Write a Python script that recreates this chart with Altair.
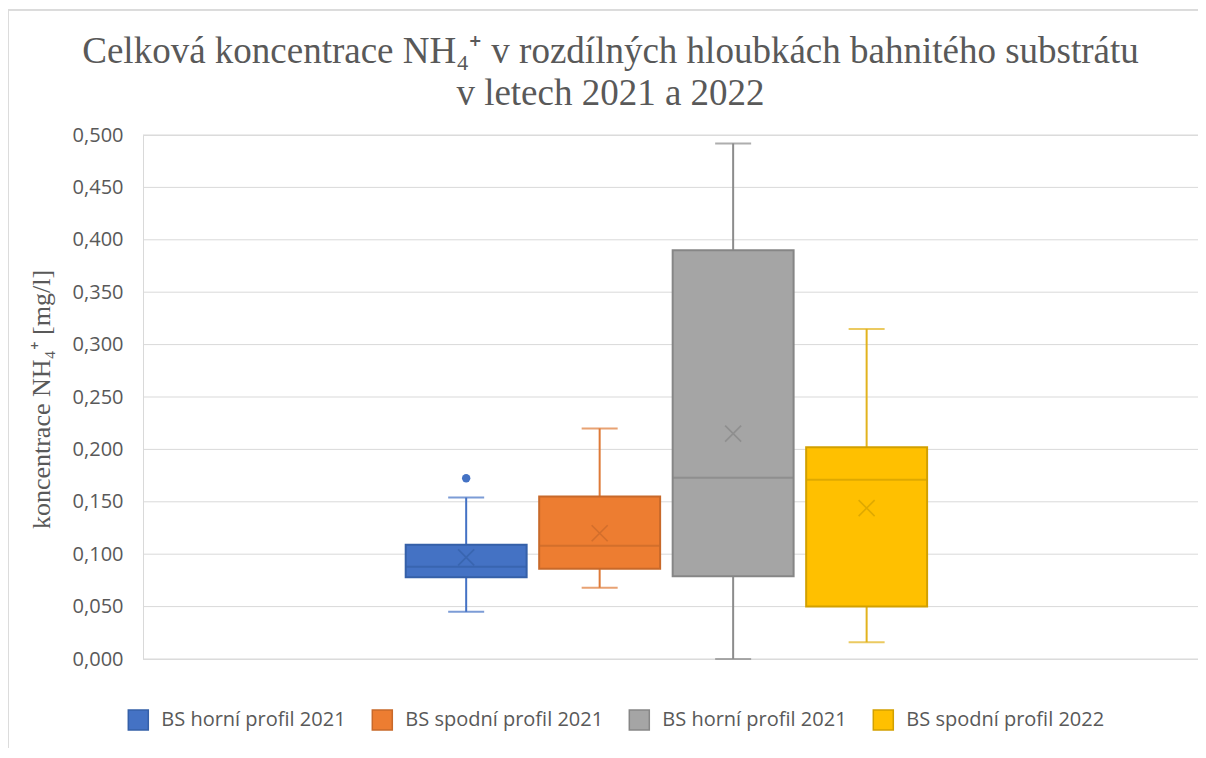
import altair as alt
import pandas as pd

# ---- data ----
series_ids = ["1", "2", "3", "4"]
series_names = ["BS horní profil 2021", "BS spodní profil 2021",
                "BS horní profil 2021", "BS spodní profil 2022"]
mins = [0.045, 0.068, 0.000, 0.016]
q1s = [0.078, 0.086, 0.079, 0.050]
medians = [0.088, 0.108, 0.173, 0.171]
q3s = [0.109, 0.155, 0.390, 0.202]
maxs = [0.154, 0.220, 0.492, 0.315]
means = [0.097, 0.120, 0.215, 0.144]
outlier_series = ["1"]
outlier_values = [0.1725]
y_ticks = [0.0, 0.05, 0.1, 0.15, 0.2, 0.25, 0.3, 0.35, 0.4, 0.45, 0.5]

fills = ["#4472c4", "#ed7d31", "#a5a5a5", "#ffc000"]
strokes = ["#3560a8", "#c8692a", "#868686", "#d2a000"]
whisker_cols = ["#4472c4", "#de7a38", "#8c8c8c", "#e2b31e"]

df = pd.DataFrame({
    "series": series_ids, "name": series_names,
    "min": mins, "q1": q1s, "median": medians, "q3": q3s,
    "max": maxs, "mean": means,
})
out_df = pd.DataFrame({"series": outlier_series, "value": outlier_values})
grid_df = pd.DataFrame({"v": y_ticks})

W, H = 1055, 524
names_js = "[" + ",".join("'" + n + "'" for n in series_names) + "]"
label_expr = names_js + "[toNumber(datum.value) - 1]"

xscale = alt.Scale(domain=series_ids, paddingInner=0.094, paddingOuter=0,
                   range=[262.7, 784.1])
x = alt.X("series:N", scale=xscale, axis=None)
yscale = alt.Scale(domain=[0, 0.5], nice=False, zero=True)

y_axis = alt.Axis(
    values=y_ticks,
    labelExpr="replace(format(datum.value, '.3f'), '.', ',')",
    labelFont="Open Sans", labelFontSize=20, labelColor="#595959",
    labelPadding=20, ticks=False, grid=False,
    domain=True, domainColor="#d9d9d9", domainWidth=1,
    title="koncentrace NH₄⁺ [mg/l]", titleFont="Liberation Serif",
    titleFontSize=26, titleFontWeight="normal", titleColor="#595959",
    titleX=-102, titleY=H / 2 + 2, titleAngle=-90, titleAlign="center",
    titleBaseline="middle",
)

legend = alt.Legend(
    title=None, orient="none", legendX=-15.7, legendY=574, padding=0,
    direction="horizontal", columns=4, columnPadding=23,
    symbolType="square", symbolSize=400, symbolStrokeWidth=1.5,
    labelFont="Open Sans", labelFontSize=20, labelColor="#595959",
    labelOffset=12, labelExpr=label_expr, labelLimit=400,
)

fill_scale = alt.Scale(domain=series_ids, range=fills)
stroke_scale = alt.Scale(domain=series_ids, range=strokes)
whisk_scale = alt.Scale(domain=series_ids, range=whisker_cols)

base = alt.Chart(df)

grid = alt.Chart(grid_df).mark_rule(color="#d9d9d9", strokeWidth=1).encode(
    y=alt.Y("v:Q", scale=yscale, axis=y_axis), x=alt.value(0), x2=alt.value(W))

whisk_hi = base.mark_rule(strokeWidth=2).encode(
    x=x, y=alt.Y("q3:Q", scale=yscale), y2="max:Q",
    stroke=alt.Stroke("series:N", scale=whisk_scale, legend=None))
whisk_lo = base.mark_rule(strokeWidth=2).encode(
    x=x, y=alt.Y("min:Q", scale=yscale), y2="q1:Q",
    stroke=alt.Stroke("series:N", scale=whisk_scale, legend=None))
cap_hi = base.mark_tick(size=36, thickness=2).encode(
    x=x, y=alt.Y("max:Q", scale=yscale),
    color=alt.Color("series:N", scale=whisk_scale, legend=None))
cap_lo = base.mark_tick(size=36, thickness=2).encode(
    x=x, y=alt.Y("min:Q", scale=yscale),
    color=alt.Color("series:N", scale=whisk_scale, legend=None))

boxes = base.mark_bar(strokeWidth=2).encode(
    x=x, y=alt.Y("q1:Q", scale=yscale), y2="q3:Q",
    fill=alt.Fill("series:N", scale=fill_scale, legend=legend),
    stroke=alt.Stroke("series:N", scale=stroke_scale, legend=legend),
)
med = base.mark_tick(size=121, thickness=2).encode(
    x=x, y=alt.Y("median:Q", scale=yscale),
    color=alt.Color("series:N", scale=stroke_scale, legend=None))
mean_x = base.mark_point(
    shape="M-1,-1L1,1M-1,1L1,-1", size=256, filled=False, strokeWidth=1.6
).encode(
    x=x, y=alt.Y("mean:Q", scale=yscale),
    color=alt.Color("series:N", scale=stroke_scale, legend=None))
outliers = alt.Chart(out_df).mark_circle(size=70, opacity=1).encode(
    x=x, y=alt.Y("value:Q", scale=yscale),
    color=alt.Color("series:N", scale=fill_scale, legend=None))

# light chart frame (left and top edges, as in the reference)
frame_l = alt.Chart(df).mark_rule(color="#d9d9d9", strokeWidth=1).encode(
    x=alt.value(-135), y=alt.value(-125), y2=alt.value(H + 89))
frame_t = alt.Chart(df).mark_rule(color="#d9d9d9", strokeWidth=1).encode(
    x=alt.value(-135), x2=alt.value(W), y=alt.value(-125))

chart = alt.layer(
    frame_l, frame_t, grid, whisk_hi, whisk_lo, cap_hi, cap_lo, boxes, med, mean_x, outliers
).resolve_scale(color="independent", stroke="independent", fill="independent").properties(
    width=W, height=H,
    autosize=alt.AutoSizeParams(type="none"),
    padding={"left": 135, "top": 127, "right": 0, "bottom": 90},
    title=alt.TitleParams(
        text=["Celková koncentrace NH₄⁺ v rozdílných hloubkách bahnitého substrátu",
              "v letech 2021 a 2022"],
        font="Liberation Serif", fontSize=37, fontWeight="normal", color="#595959",
        anchor="middle", dx=-60, lineHeight=42, offset=0, dy=140, baseline="bottom",
    ),
).configure_view(strokeWidth=0, stroke="transparent", strokeOpacity=0).configure(background="white")

chart.save("out.html", embed_options={"renderer": "svg", "actions": False})
